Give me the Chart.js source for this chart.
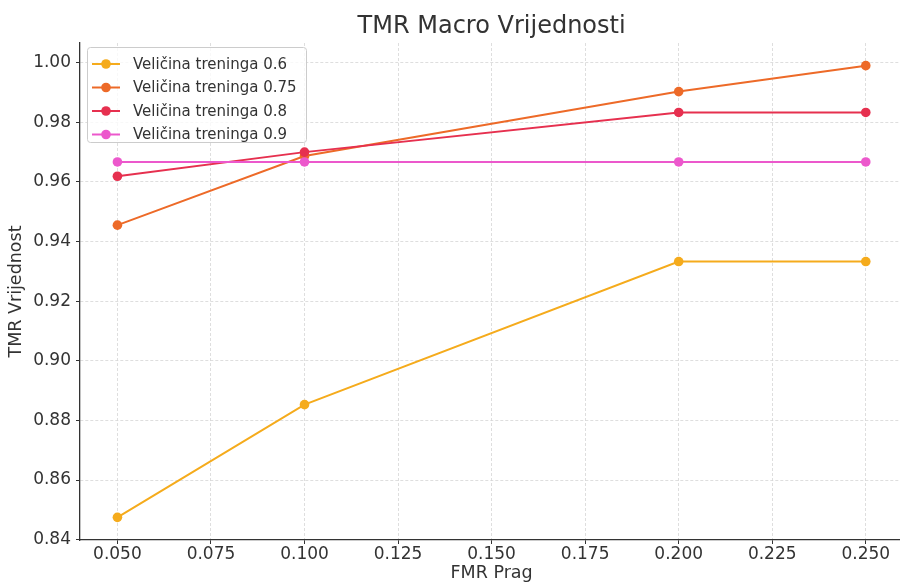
<!DOCTYPE html>
<html>
<head>
<meta charset="utf-8">
<script src="https://cdn.jsdelivr.net/npm/chart.js@4.4.0/dist/chart.umd.min.js"></script>
<style>
  html, body { margin: 0; padding: 0; background: #fff; overflow: hidden; }
  #wrap { width: 908px; height: 584px; }
</style>
</head>
<body>
<div id="wrap"><canvas id="tmrChart"></canvas></div>
<script>
const fmrThresholds = [0.05, 0.1, 0.2, 0.25];
const trainSizes = ['0.6', '0.75', '0.8', '0.9'];
const tmr06 = [0.8475, 0.8853, 0.9333, 0.9333];
const tmr075 = [0.9455, 0.9687, 0.9903, 0.9990];
const tmr08 = [0.9619, 0.9700, 0.9833, 0.9833];
const tmr09 = [0.9667, 0.9667, 0.9667, 0.9667];
const xTicks = [0.05, 0.075, 0.1, 0.125, 0.15, 0.175, 0.2, 0.225, 0.25];
const yTicks = [0.84, 0.86, 0.88, 0.90, 0.92, 0.94, 0.96, 0.98, 1.00];

const colors = ['#f5ab1c', '#ed6a28', '#e6304f', '#ec58cc'];
const series = [tmr06, tmr075, tmr08, tmr09];
const FONT = '"DejaVu Sans", sans-serif';
const TEXT = '#333';

const datasets = series.map((vals, i) => ({
  label: 'Veličina treninga ' + trainSizes[i],
  data: fmrThresholds.map((x, j) => ({ x: x, y: vals[j] })),
  borderColor: colors[i],
  backgroundColor: colors[i],
  pointBackgroundColor: colors[i],
  pointBorderWidth: 0,
  pointRadius: 4.8,
  borderWidth: 2,
  tension: 0,
  order: series.length - i
}));

// title centred over the plot area + matplotlib-like legend box
const overlay = {
  id: 'overlay',
  afterDraw(chart) {
    const { ctx, chartArea } = chart;
    ctx.save();
    ctx.fillStyle = TEXT;
    ctx.font = '24px ' + FONT;
    ctx.textAlign = 'center';
    ctx.textBaseline = 'middle';
    ctx.fillText('TMR Macro Vrijednosti', (chartArea.left + chartArea.right) / 2, 27);

    const x0 = chartArea.left + 7, y0 = chartArea.top + 4, w = 219, h = 95;
    ctx.fillStyle = 'rgba(255,255,255,0.8)';
    ctx.strokeStyle = '#cccccc';
    ctx.lineWidth = 1;
    ctx.beginPath();
    ctx.roundRect(x0 + 0.5, y0 + 0.5, w, h, 3);
    ctx.fill();
    ctx.stroke();

    ctx.font = '15px ' + FONT;
    ctx.textAlign = 'left';
    chart.data.datasets.forEach((ds, i) => {
      const y = y0 + 17 + i * 23.5;
      ctx.strokeStyle = ds.borderColor;
      ctx.lineWidth = 2;
      ctx.beginPath();
      ctx.moveTo(x0 + 5, y);
      ctx.lineTo(x0 + 33, y);
      ctx.stroke();
      ctx.fillStyle = ds.borderColor;
      ctx.beginPath();
      ctx.arc(x0 + 19, y, 4.8, 0, Math.PI * 2);
      ctx.fill();
      ctx.fillStyle = TEXT;
      ctx.fillText(ds.label, x0 + 46, y + 1);
    });
    ctx.restore();
  }
};

new Chart(document.getElementById('tmrChart'), {
  type: 'line',
  data: { datasets: datasets },
  plugins: [overlay],
  options: {
    responsive: true,
    maintainAspectRatio: false,
    animation: false,
    layout: { padding: { top: 43, right: 0, bottom: 0, left: 0 } },
    plugins: {
      legend: { display: false },
      title: { display: false },
      tooltip: { enabled: false }
    },
    scales: {
      x: {
        type: 'linear',
        min: 0.04,
        max: 0.26,
        afterBuildTicks: (scale) => { scale.ticks = xTicks.map(v => ({ value: v })); },
        afterFit: (scale) => { scale.height = 44; },
        ticks: {
          color: TEXT,
          font: { family: FONT, size: 17 },
          padding: 0,
          maxRotation: 0,
          callback: (v) => Number(v).toFixed(3)
        },
        grid: { color: '#d6d6d6', lineWidth: 0.8, tickColor: TEXT, tickLength: 4, tickWidth: 1 },
        border: { display: true, color: TEXT, width: 1.3, dash: [3, 2] },
        title: {
          display: true,
          text: 'FMR Prag',
          color: TEXT,
          font: { family: FONT, size: 17.5 },
          padding: { top: 0, bottom: 0 }
        }
      },
      y: {
        min: 0.8399,
        max: 1.0066,
        afterBuildTicks: (scale) => { scale.ticks = yTicks.map(v => ({ value: v })); },
        afterFit: (scale) => { scale.width = 80; },
        ticks: {
          color: TEXT,
          font: { family: FONT, size: 17 },
          padding: 5,
          callback: (v) => Number(v).toFixed(2)
        },
        grid: { color: '#d6d6d6', lineWidth: 0.8, tickColor: TEXT, tickLength: 4, tickWidth: 1 },
        border: { display: true, color: TEXT, width: 1.3, dash: [3, 2] },
        title: {
          display: true,
          text: 'TMR Vrijednost',
          color: TEXT,
          font: { family: FONT, size: 17.5 },
          padding: { top: 6, bottom: 0 }
        }
      }
    }
  }
});
</script>
</body>
</html>
